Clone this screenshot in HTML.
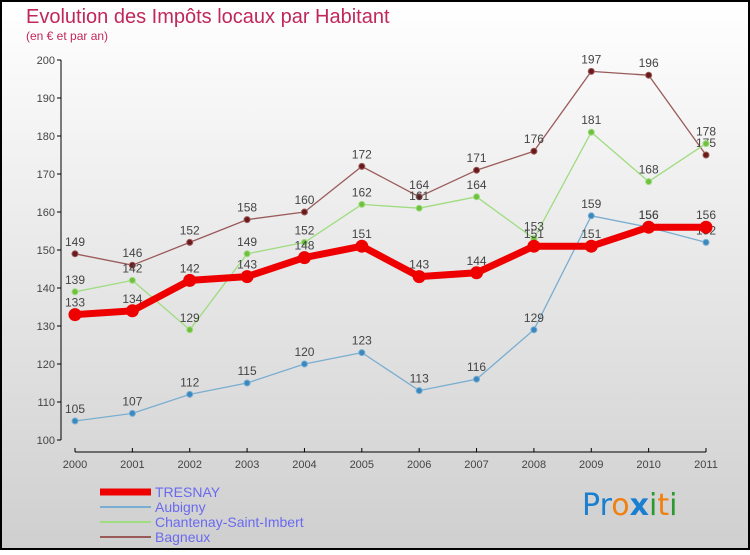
<!DOCTYPE html>
<html><head><meta charset="utf-8"><style>
body{margin:0}
#c{width:750px;height:550px;position:relative;font-family:"Liberation Sans",sans-serif}
</style></head><body>
<div id="c">
<svg id="s" width="750" height="550" xmlns="http://www.w3.org/2000/svg">
<defs><linearGradient id="bg" x1="0" y1="0" x2="0" y2="1"><stop offset="0" stop-color="#ffffff"/><stop offset="1" stop-color="#cfcfcf"/></linearGradient></defs>
<rect x="1" y="1" width="748" height="548" fill="url(#bg)" stroke="#000" stroke-width="2"/>
<text x="26" y="23" font-size="20" fill="#c0285a">Evolution des Impôts locaux par Habitant</text>
<text x="26" y="40" font-size="12" fill="#c0285a">(en € et par an)</text>
<g id="axes"></g><g id="series"></g><g id="legend"></g>
<g font-size="30" font-family="'DejaVu Sans',sans-serif">
<text x="582" y="515"><tspan fill="#1a7fd0">Pr</tspan><tspan fill="#f08010">o</tspan><tspan fill="#1a7fd0" font-weight="bold">x</tspan><tspan fill="#2a9a30">i</tspan><tspan fill="#f08010">t</tspan><tspan fill="#2a9a30">i</tspan></text>
</g>
</svg>
</div>
<script>
const years=["2000","2001","2002","2003","2004","2005","2006","2007","2008","2009","2010","2011"];
const yTicks=[100,110,120,130,140,150,160,170,180,190,200];
const tresnay=[133,134,142,143,148,151,143,144,151,151,156,156];
const aubigny=[105,107,112,115,120,123,113,116,129,159,156,152];
const chantenay=[139,142,129,149,152,162,161,164,153,181,168,178];
const bagneux=[149,146,152,158,160,172,164,171,176,197,196,175];
const NS="http://www.w3.org/2000/svg";
function X(i){return 75+i*(706-75)/(years.length-1);}
function Y(v){return 440-(v-100)*3.8;}
function mk(t,a,p){const e=document.createElementNS(NS,t);for(const k in a)e.setAttribute(k,a[k]);p.appendChild(e);return e;}
const ax=document.getElementById('axes');
mk('line',{x1:61,y1:Y(200),x2:61,y2:Y(100),stroke:'#000'},ax);
yTicks.forEach(v=>{
 mk('line',{x1:57,y1:Y(v),x2:61,y2:Y(v),stroke:'#000'},ax);
 const t=mk('text',{x:55,y:Y(v)+4,'font-size':11,fill:'#444','text-anchor':'end'},ax);t.textContent=v;
 
 
});
mk('line',{x1:75,y1:452,x2:706,y2:452,stroke:'#000'},ax);
years.forEach((y,i)=>{
 mk('line',{x1:X(i),y1:448,x2:X(i),y2:452,stroke:'#000'},ax);
 const t=mk('text',{x:X(i),y:468,'font-size':11,fill:'#444','text-anchor':'middle'},ax);t.textContent=y;
 
 
});
const sg=document.getElementById('series');
function series(name,data,color,dot,w,r){
 const g=mk('g',{},sg);
 
 
 mk('polyline',{points:data.map((v,i)=>X(i)+','+Y(v)).join(' '),fill:'none',stroke:color,'stroke-width':w,'stroke-linejoin':'round'},g);
 data.forEach((v,i)=>{
  const c=mk('circle',{cx:X(i),cy:Y(v),r:r,fill:dot,stroke:color,'stroke-width':1},g);
  
  
  const t=mk('text',{x:X(i),y:Y(v)-8,'font-size':12,fill:'#444','text-anchor':'middle'},g);t.textContent=v;
  
  
 });
}
series('bagneux',bagneux,'#9a5a5a','#6a1a1a',1.3,3);
series('chantenay',chantenay,'#a0dc80','#70c040',1.3,3);
series('aubigny',aubigny,'#7aaed0','#3a88c0',1.3,3);
series('tresnay',tresnay,'#ee0000','#ee0000',7,6);
const lg=document.getElementById('legend');
const items=[['TRESNAY','#ee0000',7],['Aubigny','#7aaed0',2],['Chantenay-Saint-Imbert','#a0dc80',2],['Bagneux','#9a5a5a',2]];
items.forEach((it,i)=>{
 const y=492+i*15;
 const g=mk('g',{},lg);
 
 
 mk('line',{x1:100,y1:y,x2:151,y2:y,stroke:it[1],'stroke-width':it[2]},g);
 const t=mk('text',{x:155,y:y+5,'font-size':14,fill:'#6a6af0'},g);t.textContent=it[0];
});
</script>
</body></html>
